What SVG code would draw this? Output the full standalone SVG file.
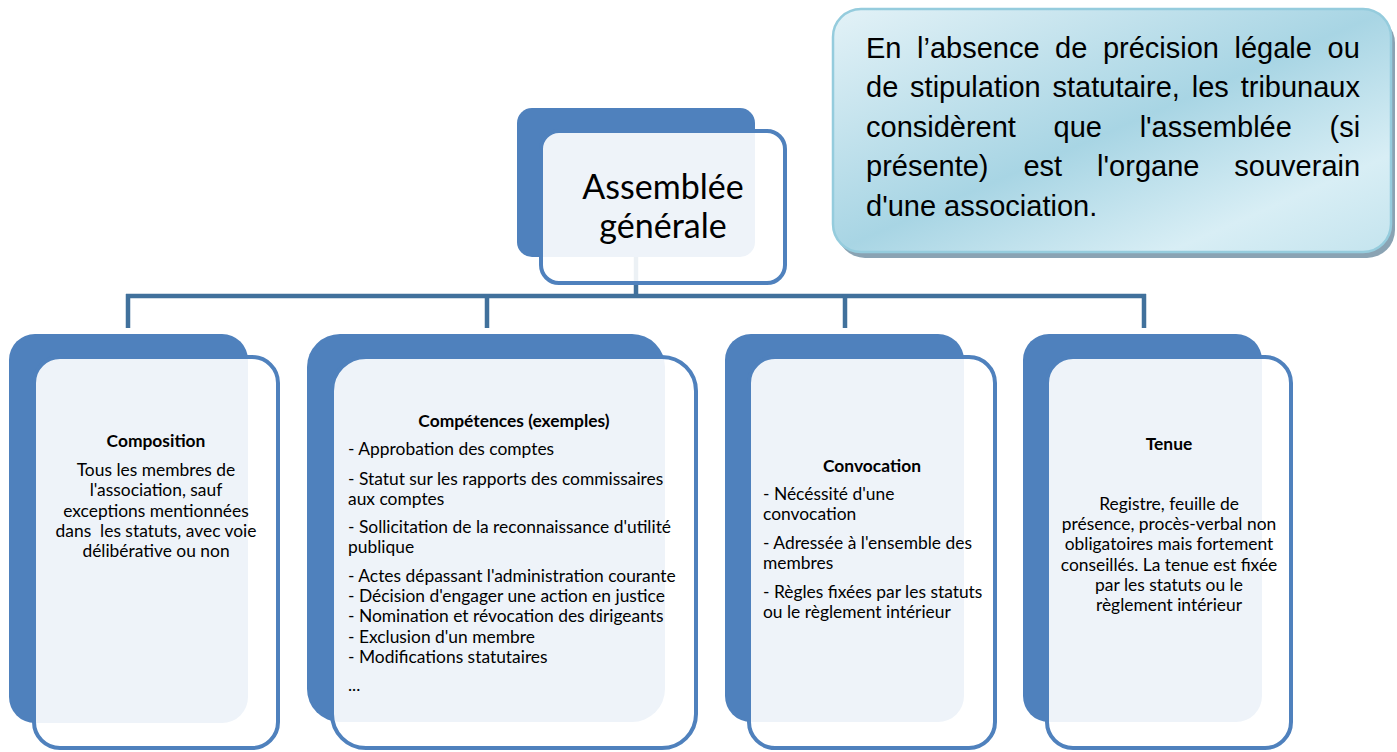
<svg xmlns="http://www.w3.org/2000/svg" width="1397" height="752" viewBox="0 0 1397 752">
<defs>
<style>
.back{fill:#4F81BD}
.front{fill:#FFFFFF;fill-opacity:0.9;stroke:#4F81BD;stroke-width:4}
.t{font-family:Lato,"Open Sans","Liberation Sans",sans-serif;font-size:17.4px;fill:#000}
.c{text-anchor:middle}
.b{font-weight:bold}
.conn{stroke:#41719C;stroke-width:4.5;fill:none}
.call{font-family:"Liberation Sans",Arial,sans-serif;font-size:29px;fill:#000}
</style>
<linearGradient id="cg" x1="0" y1="0" x2="1" y2="1">
<stop offset="0" stop-color="#E3F2F7"/>
<stop offset="0.5" stop-color="#A8D5E4"/>
<stop offset="0.8" stop-color="#D8EEF5"/>
<stop offset="1" stop-color="#C4E4EE"/>
</linearGradient>
</defs>
<rect width="1397" height="752" fill="#FFFFFF"/>

<g id="connectors">
<path class="conn" d="M636,257 V296"/>
<path class="conn" d="M126,296 H1146"/>
<path class="conn" d="M128,294 V328 M487,294 V328 M845,294 V328 M1144,294 V328"/>
</g>

<g id="callout">
<rect x="837" y="15" width="558" height="243" rx="28" fill="#8AA3B3"/>
<rect x="833" y="9" width="558" height="243" rx="28" fill="url(#cg)" stroke="#95CCDD" stroke-width="2.5"/>
<text class="call" x="866" y="58" word-spacing="7.5">En l’absence de précision légale ou</text>
<text class="call" x="866" y="97" word-spacing="3.8">de stipulation statutaire, les tribunaux</text>
<text class="call" x="866" y="137" word-spacing="29.6">considèrent que l'assemblée (si</text>
<text class="call" x="866" y="176" word-spacing="26.9">présente) est l'organe souverain</text>
<text class="call" x="866" y="216">d'une association.</text>
</g>

<g id="node-assemblee">
<rect class="back" x="517" y="108" width="238" height="149" rx="15"/>
<rect class="front" x="541" y="131" width="244" height="152" rx="18"/>
<text class="t c" x="663" y="199" style="font-size:34px">Assemblée</text>
<text class="t c" x="663" y="238" style="font-size:34px">générale</text>
</g>

<g id="node-composition">
<rect class="back" x="9" y="334" width="239" height="389" rx="26"/>
<rect class="front" x="34" y="357" width="244" height="391" rx="26"/>
<text class="t c b" x="156" y="447">Composition</text>
<text class="t c" x="156" y="476">Tous les membres de</text>
<text class="t c" x="156" y="496">l'association, sauf</text>
<text class="t c" x="156" y="516.5">exceptions mentionnées</text>
<text class="t c" x="156" y="537" style="white-space:pre">dans  les statuts, avec voie</text>
<text class="t c" x="156" y="557">délibérative ou non</text>
</g>

<g id="node-competences">
<rect class="back" x="307" y="334" width="358" height="388" rx="33"/>
<rect class="front" x="332" y="357" width="364" height="391" rx="34"/>
<text class="t c b" x="514" y="427">Compétences (exemples)</text>
<text class="t" x="348" y="455">- Approbation des comptes</text>
<text class="t" x="348" y="485">- Statut sur les rapports des commissaires</text>
<text class="t" x="348" y="505">aux comptes</text>
<text class="t" x="348" y="533">- Sollicitation de la reconnaissance d'utilité</text>
<text class="t" x="348" y="553">publique</text>
<text class="t" x="348" y="582">- Actes dépassant l'administration courante</text>
<text class="t" x="348" y="602">- Décision d'engager une action en justice</text>
<text class="t" x="348" y="622">- Nomination et révocation des dirigeants</text>
<text class="t" x="348" y="643">- Exclusion d'un membre</text>
<text class="t" x="348" y="663">- Modifications statutaires</text>
<text class="t" x="348" y="691">...</text>
</g>

<g id="node-convocation">
<rect class="back" x="725" y="334" width="239" height="388" rx="26"/>
<rect class="front" x="749" y="357" width="246" height="391" rx="26"/>
<text class="t c b" x="872" y="472">Convocation</text>
<text class="t" x="763" y="500">- Nécéssité d'une</text>
<text class="t" x="763" y="520">convocation</text>
<text class="t" x="763" y="549">- Adressée à l'ensemble des</text>
<text class="t" x="763" y="569">membres</text>
<text class="t" x="763" y="598">- Règles fixées par les statuts</text>
<text class="t" x="763" y="618">ou le règlement intérieur</text>
</g>

<g id="node-tenue">
<rect class="back" x="1023" y="334" width="239" height="388" rx="26"/>
<rect class="front" x="1047" y="357" width="244" height="391" rx="26"/>
<text class="t c b" x="1169" y="450">Tenue</text>
<text class="t c" x="1169" y="510">Registre, feuille de</text>
<text class="t c" x="1169" y="530">présence, procès-verbal non</text>
<text class="t c" x="1169" y="550">obligatoires mais fortement</text>
<text class="t c" x="1169" y="571">conseillés. La tenue est fixée</text>
<text class="t c" x="1169" y="591">par les statuts ou le</text>
<text class="t c" x="1169" y="611">règlement intérieur</text>
</g>
</svg>
